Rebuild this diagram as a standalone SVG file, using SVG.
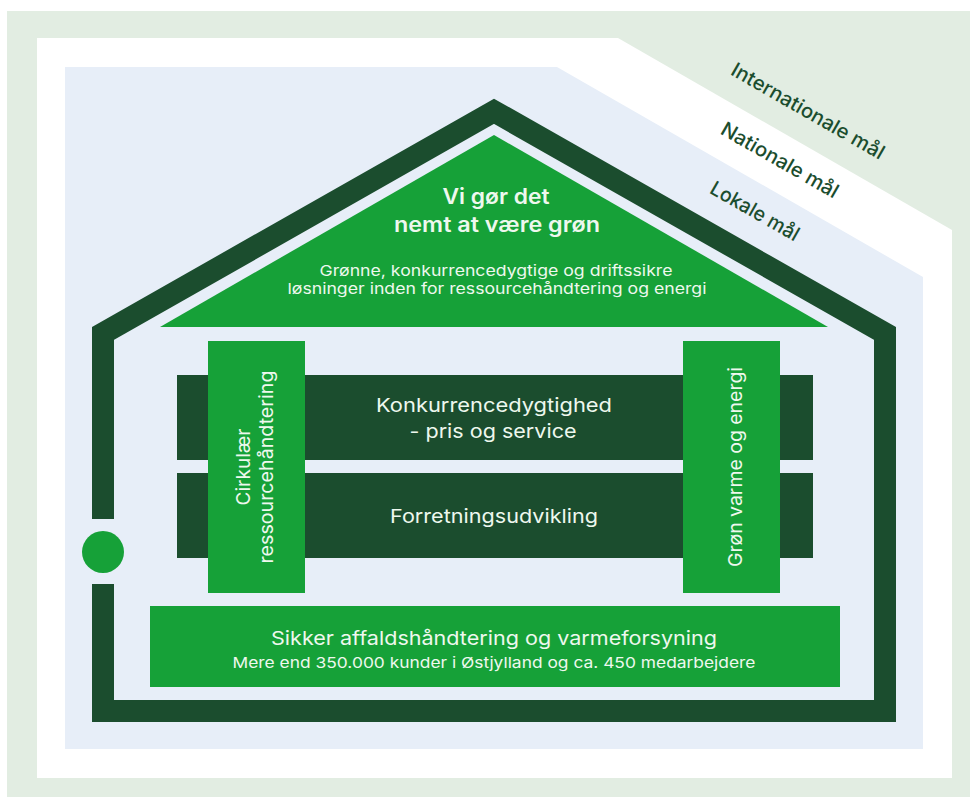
<svg xmlns="http://www.w3.org/2000/svg" width="970" height="797" viewBox="0 0 970 797">
<style>
.t{font-family:Inter,"Liberation Sans",Arial,sans-serif;fill:#eef8ee;text-anchor:middle}
.goal{font-family:Inter,"Liberation Sans",Arial,sans-serif;fill:#1b4d2e;text-anchor:middle;font-size:20px;font-weight:500}
.g{fill:#16a138}
.d{fill:#1b4d2e}
</style>
<rect x="0" y="0" width="970" height="797" fill="#ffffff"/>
<rect x="7" y="11" width="963" height="786" fill="#e2ede2"/>
<path d="M37,38 H618 L952,230 V778 H37 Z" fill="#ffffff"/>
<path d="M65,67 H557 L923,277 V749 H65 Z" fill="#e7eef8"/>
<g id="goals">
<text class="goal" transform="translate(808,111) rotate(29.8)" y="7" textLength="173" lengthAdjust="spacingAndGlyphs">Internationale mål</text>
<text class="goal" transform="translate(780,160) rotate(29.8)" y="7" textLength="132" lengthAdjust="spacingAndGlyphs">Nationale mål</text>
<text class="goal" transform="translate(755,211) rotate(29.8)" y="7" textLength="99" lengthAdjust="spacingAndGlyphs">Lokale mål</text>
</g>
<g id="house-outline">
<path d="M103,519 V333.4 L494,111.3 L885,333.4 V711 H103 V584" fill="none" stroke="#1b4d2e" stroke-width="22" stroke-linejoin="miter"/>
<circle cx="103" cy="552" r="21" class="g"/>
</g>
<g id="roof">
<path d="M160,327 L494,135 L828,327 Z" class="g"/>
<text class="t" x="496" y="204" font-size="21" font-weight="600" textLength="107" lengthAdjust="spacingAndGlyphs">Vi gør det</text>
<text class="t" x="497" y="232" font-size="21" font-weight="600" textLength="206" lengthAdjust="spacingAndGlyphs">nemt at være grøn</text>
<text class="t" x="496" y="276" font-size="15" textLength="353" lengthAdjust="spacingAndGlyphs">Grønne, konkurrencedygtige og driftssikre</text>
<text class="t" x="497" y="294" font-size="15" textLength="419" lengthAdjust="spacingAndGlyphs">løsninger inden for ressourcehåndtering og energi</text>
</g>
<g id="bar-konkurrence">
<rect x="177" y="375" width="636" height="85" class="d"/>
<text class="t" x="494" y="412" font-size="19" textLength="236" lengthAdjust="spacingAndGlyphs">Konkurrencedygtighed</text>
<text class="t" x="493" y="438" font-size="19" textLength="167" lengthAdjust="spacingAndGlyphs">- pris og service</text>
</g>
<g id="bar-forretning">
<rect x="177" y="473" width="636" height="85" class="d"/>
<text class="t" x="494" y="523" font-size="19" textLength="208" lengthAdjust="spacingAndGlyphs">Forretningsudvikling</text>
</g>
<g id="pillar-cirkulaer">
<rect x="208" y="341" width="97" height="252" class="g"/>
<text class="t" transform="translate(250,467) rotate(-90)" font-size="19" textLength="77" lengthAdjust="spacingAndGlyphs">Cirkulær</text>
<text class="t" transform="translate(273,467) rotate(-90)" font-size="19" textLength="193" lengthAdjust="spacingAndGlyphs">ressourcehåndtering</text>
</g>
<g id="pillar-groen">
<rect x="683" y="341" width="97" height="252" class="g"/>
<text class="t" transform="translate(742,467) rotate(-90)" font-size="19" textLength="200" lengthAdjust="spacingAndGlyphs">Grøn varme og energi</text>
</g>
<g id="foundation">
<rect x="150" y="606" width="690" height="81" class="g"/>
<text class="t" x="494" y="645" font-size="19" textLength="446" lengthAdjust="spacingAndGlyphs">Sikker affaldshåndtering og varmeforsyning</text>
<text class="t" x="494" y="668" font-size="15" textLength="523" lengthAdjust="spacingAndGlyphs">Mere end 350.000 kunder i Østjylland og ca. 450 medarbejdere</text>
</g>
<g id="connectors"></g>
</svg>
